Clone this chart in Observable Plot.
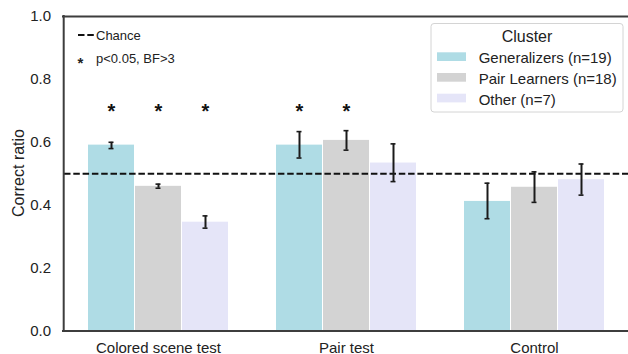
<!DOCTYPE html>
<html><head><meta charset="utf-8">
<script src="https://cdn.jsdelivr.net/npm/d3@7"></script>
<script src="https://cdn.jsdelivr.net/npm/@observablehq/plot@0.6"></script>
<style>body{margin:0;background:#fff} svg{display:block}</style>
</head><body><div id="chart"></div>
<script>
// ---- data ----
const categories = ["Colored scene test", "Pair test", "Control"];
const clusters = ["Generalizers (n=19)", "Pair Learners (n=18)", "Other (n=7)"];
const clusterColors = ["#afdce5", "#d3d3d3", "#e5e5f8"];
const yTicks = [0.0, 0.2, 0.4, 0.6, 0.8, 1.0];
const chance = 0.5;

const generalizersMean = [0.591, 0.591, 0.412];
const generalizersLow  = [0.580, 0.550, 0.357];
const generalizersHigh = [0.600, 0.634, 0.470];

const pairLearnersMean = [0.460, 0.606, 0.457];
const pairLearnersLow  = [0.454, 0.575, 0.409];
const pairLearnersHigh = [0.467, 0.637, 0.506];

const otherMean = [0.346, 0.534, 0.481];
const otherLow  = [0.327, 0.475, 0.432];
const otherHigh = [0.366, 0.595, 0.531];

const generalizersSig = [true, true, false];
const pairLearnersSig = [true, true, false];
const otherSig = [true, false, false];

// ---- build table ----
const series = [
  {mean: generalizersMean, low: generalizersLow, high: generalizersHigh, sig: generalizersSig},
  {mean: pairLearnersMean, low: pairLearnersLow, high: pairLearnersHigh, sig: pairLearnersSig},
  {mean: otherMean, low: otherLow, high: otherHigh, sig: otherSig}
];
const BAR = 0.25;       // width of one bar in category units
const STAR_Y = 0.713;   // height of significance marks
const rows = [];
categories.forEach((cat, i) => {
  clusters.forEach((cl, j) => {
    const s = series[j];
    rows.push({cat, cluster: cl, xc: i + (j - 1) * BAR,
      mean: s.mean[i], lo: s.low[i], hi: s.high[i], sig: s.sig[i]});
  });
});
const starRows = rows.filter(d => d.sig);

const font = "'Liberation Sans', Arial, sans-serif";
const ink = "#222";
const spine = "#3d3d3d";

const svg = Plot.plot({
  width: 628, height: 354,
  marginLeft: 64, marginRight: 0, marginTop: 16, marginBottom: 23.5,
  style: {fontFamily: font, color: ink, background: "#fff"},
  x: {domain: [-0.5, 2.5], axis: null},
  y: {domain: [0, 1], axis: null},
  color: {domain: clusters, range: clusterColors},
  marks: [
    Plot.rectY(rows, {x1: d => d.xc - BAR / 2, x2: d => d.xc + BAR / 2, y1: 0, y2: "mean",
      fill: "cluster", insetLeft: 0.5, insetRight: 0.5}),
    Plot.ruleY([chance], {stroke: "#111", strokeWidth: 1.8, strokeDasharray: "6.5,2.8"}),
    Plot.ruleX(rows, {x: "xc", y1: "lo", y2: "hi", stroke: "#1a1a1a", strokeWidth: 2}),
    Plot.ruleY(rows, {y: "lo", x1: "xc", x2: "xc", insetLeft: -2.5, insetRight: -2.5, stroke: "#1a1a1a", strokeWidth: 1.6}),
    Plot.ruleY(rows, {y: "hi", x1: "xc", x2: "xc", insetLeft: -2.5, insetRight: -2.5, stroke: "#1a1a1a", strokeWidth: 1.6}),
    Plot.text(starRows, {x: "xc", y: () => STAR_Y, text: () => "*", fontSize: 20, fontWeight: "bold", dy: 4.5, fill: "#111"}),
    Plot.axisY(yTicks, {tickFormat: d3.format(".1f"), tickSize: 0, tickPadding: 13.5, label: null, fontSize: 15}),
    Plot.axisX([0, 1, 2], {tickFormat: i => categories[i], tickSize: 0, tickPadding: 11, label: null, fontSize: 15}),
    Plot.ruleY([0, 1], {stroke: spine, strokeWidth: 2, insetLeft: -2}),
    Plot.ruleX([-0.5], {stroke: spine, strokeWidth: 2, dx: -0.8, insetTop: -1, insetBottom: -1})
  ]
});

const g = d3.select(svg).append("g").attr("font-family", font).attr("fill", ink)
  .attr("text-anchor", "start");

// y axis label
g.append("text").attr("transform", "translate(23.5,173) rotate(-90)")
  .attr("text-anchor", "middle").attr("font-size", 16).text("Correct ratio");

// top-left annotations
g.append("line").attr("x1", 78).attr("x2", 94).attr("y1", 35).attr("y2", 35)
  .attr("stroke", "#111").attr("stroke-width", 1.8).attr("stroke-dasharray", "6.5,2.8");
g.append("text").attr("x", 96).attr("y", 39.5).attr("font-size", 13).text("Chance");
g.append("text").attr("x", 80.5).attr("y", 67.5).attr("font-size", 15).attr("font-weight", "bold")
  .attr("text-anchor", "middle").text("*");
g.append("text").attr("x", 96).attr("y", 63.3).attr("font-size", 13).text("p<0.05, BF>3");

// legend
const lg = g.append("g");
lg.append("rect").attr("x", 431).attr("y", 23.5).attr("width", 192).attr("height", 88.5)
  .attr("rx", 3).attr("fill", "#fff").attr("fill-opacity", 0.8)
  .attr("stroke", "#d4d4d4").attr("stroke-width", 1);
lg.append("text").attr("x", 527).attr("y", 42.3).attr("text-anchor", "middle")
  .attr("font-size", 16).text("Cluster");
clusters.forEach((cl, k) => {
  lg.append("rect").attr("x", 437).attr("y", 52.3 + k * 20.7).attr("width", 29).attr("height", 8.7)
    .attr("fill", clusterColors[k]);
  lg.append("text").attr("x", 478.7).attr("y", 63.3 + k * 20.7).attr("font-size", 15).text(cl);
});

document.getElementById("chart").appendChild(svg);
</script>
</body></html>
